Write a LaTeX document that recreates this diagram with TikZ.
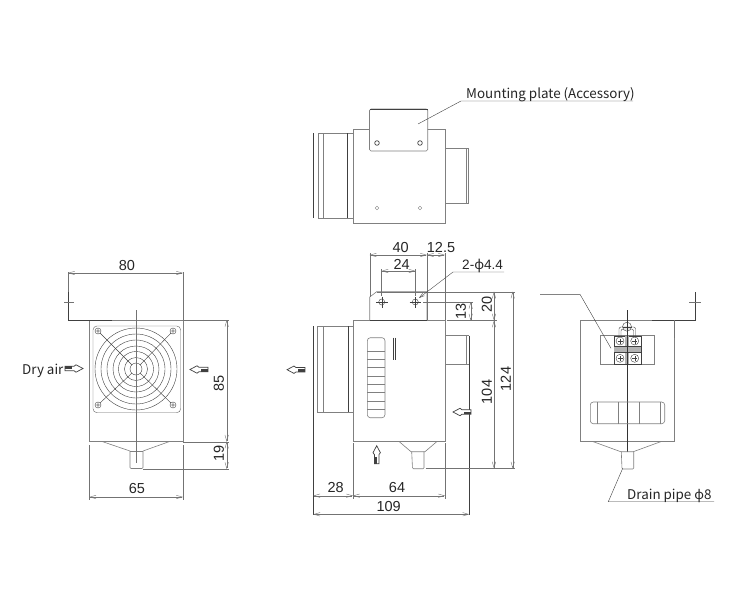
\documentclass[tikz,border=0pt]{standalone}
\usepackage{fontspec}
\setmainfont{Liberation Sans}
\newfontfamily\jpfont{Noto Sans CJK JP}
\newfontfamily\phifont{Noto Sans}
\usetikzlibrary{arrows.meta}
\definecolor{bodyc}{gray}{0.5}
\definecolor{dimc}{gray}{0.45}
\tikzset{
 bodyl/.style={draw=bodyc,line width=0.6pt},
 fine/.style={draw=black!75,line width=0.4pt},
 dark/.style={draw=black!75,line width=1pt},
 extl/.style={draw=dimc,line width=0.4pt},
 diml/.style={draw=dimc,line width=0.4pt,{Straight Barb[length=6pt,width=3.5pt]}-{Straight Barb[length=6pt,width=3.5pt]}},
 numl/.style={font=\fontsize{14.5}{14.5}\selectfont,text=black!85,inner sep=0pt},
 txtl/.style={font=\jpfont\fontsize{13.4}{14}\selectfont,text=black!85,inner sep=0pt},
 flowarrow/.pic={
   \filldraw[draw=black!75,fill=white,line width=0.7pt] (0,0)--(-7,-3.7)--(-9,-2.2)--(-18,-2.2)--(-18,2.2)--(-9,2.2)--(-7,3.7)--cycle;
   \fill[black!75] (-11,-2.2) rectangle (-18,0.4);
 }
}
\begin{document}
\begin{tikzpicture}[x=1pt,y=-1pt]
\useasboundingbox[fill=white] (0,0) rectangle (740,600);
% ---------- TOP VIEW ----------
\draw[bodyl] (353,129) rectangle (445,223);
\draw[fine] (313,133)--(313,218);
\draw[bodyl] (318,133)--(353,133) (318,218)--(353,218) (318,133)--(318,218) (323,133)--(323,218);
\draw[fine] (347.5,133)--(347.5,218);
\draw[bodyl,fill=white,rounded corners=1.5pt] (369.5,151)--(369.5,109)--(427.7,109)--(427.7,151)--cycle;
\draw[dark] (369.5,109)--(427.7,109);
\draw[dark,line width=0.7pt] (377,143) circle (2.3) (420,143) circle (2.3);
\draw[fine,draw=black!50] (377,208) circle (1.8) (420,208) circle (1.8);
\draw[bodyl] (445,148)--(468.7,148)--(468.7,203)--(445,203) (466,148)--(466,203);
\coordinate (mpA) at (418,124); \coordinate (mpB) at (461,101); \coordinate (mpC) at (633,101);
\draw[fine] (mpA)--(mpB)--(mpC);
\node[txtl,anchor=base west] (mptext) at (466,98) {Mounting plate (Accessory)};
% ---------- LEFT VIEW ----------
\draw[bodyl] (89.3,320) rectangle (183,441.7);
\draw[fine,draw=black!60,rounded corners=4pt] (93,326) rectangle (180.7,412.7);
\foreach \r in {6,11.5,17.5,23,29,35,41} \draw[fine] (136,369) circle (\r);
\foreach \x/\y in {98/331,173/331,98/405,173/405}{
  \draw[fine] (\x,\y) circle (3) (\x,\y) circle (1.4);
}
\draw[fine] (100,333)--(131.7,364.7) (171,333)--(140.3,364.7) (100,403)--(131.7,373.3) (171,403)--(140.3,373.3);
\draw[bodyl] (102.7,441.7)--(130,451) (143,451)--(169,441.7);
\draw[bodyl,rounded corners=1pt] (130,451)--(130,468.5)--(143,468.5)--(143,451);
\draw[bodyl] (130,451)--(143,451);
\draw[extl] (136,310)--(136,463);
\draw[dark] (68,292)--(68,320)--(112,320);
\draw[extl] (68,272)--(68,292) (64,302)--(74,302) (183,272)--(183,320) (183,320)--(229,320) (183,441.7)--(229,441.7) (143,469)--(229,469);
\draw[extl] (89.3,445)--(89.3,500) (183,445)--(183,500);
\draw[diml] (68,273)--(183,273);
\draw[diml] (89.3,497)--(183,497);
\draw[diml] (226.7,320)--(226.7,441.7);
\draw[diml] (226.7,441.7)--(226.7,469);
\node[numl] (d80) at (127,266) {80};
\node[numl] (d65) at (137,489) {65};
\node[numl,rotate=90] (d85) at (219,383) {85};
\node[numl,rotate=90] (d19) at (219,453) {19};
\node[txtl,anchor=base west] (dry) at (22,374) {Dry air};
\pic at (83,368.5) {flowarrow};
\pic[rotate=180] at (190,369.5) {flowarrow};
% ---------- FRONT VIEW ----------
\draw[bodyl] (353,320) rectangle (445,441);
\draw[fine] (313.3,326)--(313.3,515);
\draw[bodyl] (317.3,326)--(353,326) (317.3,412)--(353,412) (317.3,326)--(317.3,412) (323.3,326)--(323.3,412);
\draw[fine] (347.7,326)--(347.7,412);
\draw[bodyl] (369.7,320)--(369.7,297)--(376.7,291.7)--(427,291.7)--(427,320);
\draw[dark] (369.7,320)--(427,320);
\draw[fine] (381.7,302) circle (3) (415.3,302) circle (3);
\draw[fine] (376,302)--(387.5,302) (381.7,296.5)--(381.7,307.5) (409.5,302)--(421,302) (415.3,296.5)--(415.3,307.5);
\draw[bodyl] (445,335.7)--(469.3,335.7) (445,364)--(469.3,364) (466,335.7)--(466,364);
\draw[fine] (469.3,335.7)--(469.3,515);
\draw[bodyl,rounded corners=3pt] (367.3,337.7) rectangle (385,417.7);
\foreach \y in {351,359.4,367.7,376,384.3,392.7,401,409.3} \draw[bodyl] (367.3,\y)--(385,\y);
\draw[fine] (392.7,337.7)--(392.7,360) (395.3,337.7)--(395.3,360);
\draw[bodyl] (399.3,441.7)--(411,451.7)--(425,451.7)--(436.7,441.7);
\draw[bodyl,rounded corners=1pt] (411.7,451.7)--(412.5,468.7)--(424,468.7)--(424,451.7);
% dimensions
\draw[extl] (369.7,253)--(369.7,297) (427,253)--(427,320) (445,253)--(445,320) (381.5,269)--(381.5,296) (415.5,269)--(415.5,296);
\draw[extl] (353,443)--(353,499) (445,443)--(445,499);
\draw[extl] (376.7,291.7)--(515,291.7) (423,302)--(473,302) (447,320.5)--(497,320.5) (425.7,468.5)--(515,468.5);
\draw[diml] (369.7,255)--(427,255);
\draw[diml] (427,255)--(445,255);
\draw[diml] (381.5,271)--(415.5,271);
\draw[diml] (470.7,302)--(470.7,320.5);
\draw[diml] (494,291.7)--(494,320.5);
\draw[diml] (494,320.5)--(494,468.5);
\draw[diml] (512.7,291.7)--(512.7,468.5);
\draw[diml] (313.3,495.7)--(353,495.7);
\draw[diml] (353,495.7)--(445,495.7);
\draw[diml] (313.3,514.3)--(469.3,514.3);
\node[numl] (d40) at (400.7,248) {40};
\node[numl] (d125) at (441,248) {12.5};
\node[numl] (d24) at (401.7,264) {24};
\node[numl,rotate=90] (d13) at (461,311) {13};
\node[numl,rotate=90] (d20) at (487,304) {20};
\node[numl,rotate=90] (d104) at (487,392) {104};
\node[numl,rotate=90] (d124) at (505.7,379) {124};
\node[numl] (d28) at (335.7,488) {28};
\node[numl] (d64) at (397,488) {64};
\node[numl] (d109) at (388.7,507) {109};
\coordinate (hlA) at (419,298); \coordinate (hlB) at (453,272); \coordinate (hlC) at (504,272);
\draw[extl,draw=black!70,-{Straight Barb[length=5pt,width=3pt]}] (hlC)--(hlB)--(hlA);
\node[numl,anchor=base west,font=\fontsize{13.6}{14}\selectfont] (dhole) at (462,269.5) {2-{\phifont ϕ}4.4};
\pic[rotate=180] at (287,369.7) {flowarrow};
\pic[rotate=90] at (376.7,445.7) {flowarrow};
\pic[rotate=180] at (453,412) {flowarrow};
% ---------- RIGHT VIEW ----------
\draw[bodyl] (580.7,320) rectangle (674,441.7);
\draw[dark] (652,320)--(695,320)--(695,292);
\draw[extl] (689.3,302.3)--(701,302.3);
\draw[dark,draw=black!55] (674,320)--(674,338);
\draw[bodyl] (600.3,335.7) rectangle (654.7,364.3);
\draw[fine] (614.3,335.7) rectangle (640.7,364.3);
\fill[black!30] (614.3,345.7) rectangle (640.7,351.7);
\fill[black!30] (625,335.7) rectangle (629,364.3);
\draw[fine] (614.3,345.7)--(640.7,345.7) (614.3,351.7)--(640.7,351.7);
\draw[fine,fill=white] (627,326.7) circle (4.5);
\draw[fine] (622.5,326.7)--(631.5,326.7);
\draw[fine,rounded corners=2pt] (619,337)--(619,327)--(635.5,327)--(635.5,337);
\draw[fine,rounded corners=2pt] (621,337)--(621,329)--(633.5,329)--(633.5,337);
\foreach \x/\y in {620/341,634.7/341,620/358.3,634.7/358.3}{
  \draw[fine,fill=white] (\x,\y) circle (4);
  \draw[fine] (\x-2.5,\y)--(\x+2.5,\y) (\x,\y-2.5)--(\x,\y+2.5);
}
\draw[extl,draw=black!80] (627,310)--(627,452);
\draw[bodyl,rounded corners=3pt] (590.3,402) rectangle (664.7,423.7);
\draw[bodyl] (597.7,402)--(597.7,423.7) (618.3,402)--(618.3,423.7) (639.3,402)--(639.3,423.7) (660,402)--(660,423.7);
\draw[bodyl] (593.3,441.7)--(620.7,451.7)--(633.3,451.7)--(660.7,441.7);
\draw[bodyl,rounded corners=1pt] (621.3,451.7)--(622,469)--(633.7,469)--(633.7,451.7);
\coordinate (tbA) at (540,294.3); \coordinate (tbB) at (580,294.3); \coordinate (tbC) at (611,348.3);
\draw[fine] (tbA)--(tbB)--(tbC);
\coordinate (dpA) at (622.7,468.3); \coordinate (dpB) at (608.3,501.7); \coordinate (dpC) at (714,501.7);
\draw[fine] (dpC)--(dpB)--(dpA);
\node[txtl,anchor=base west] (drain) at (627,499) {Drain pipe {\phifont ϕ}8};
\end{tikzpicture}
\end{document}
